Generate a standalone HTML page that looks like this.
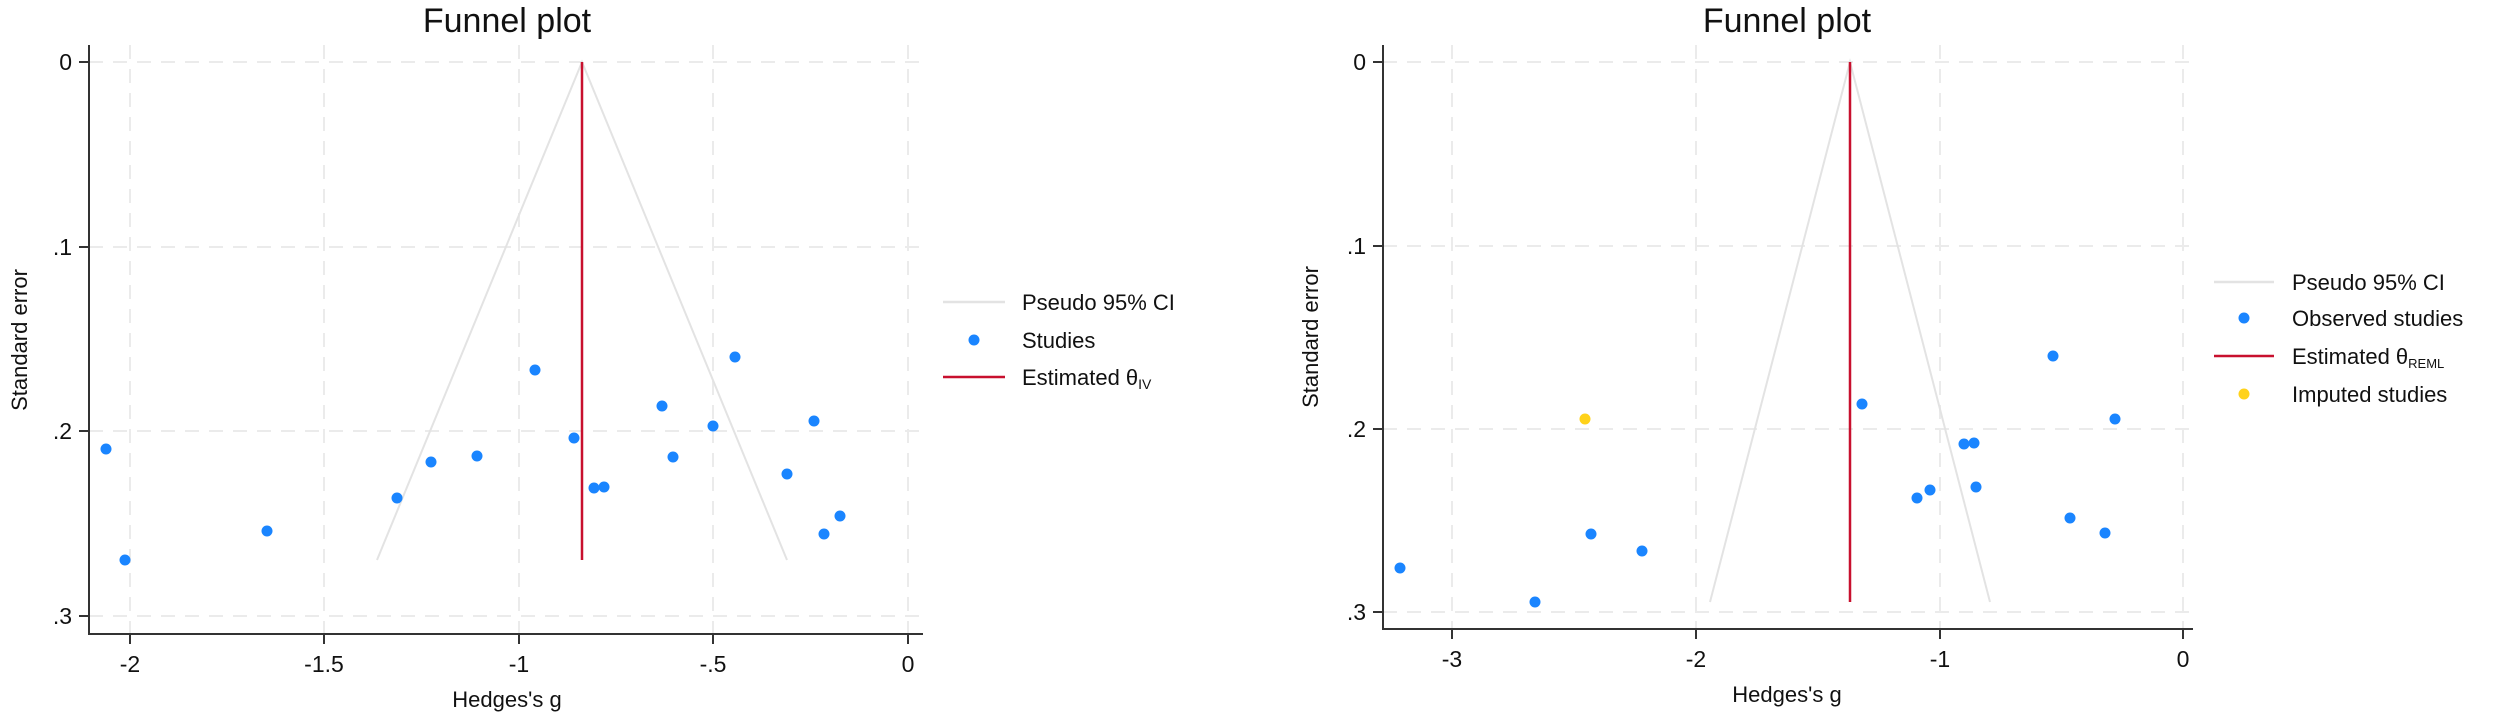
<!DOCTYPE html>
<html><head><meta charset="utf-8"><style>
body{margin:0;background:#fff}
svg{display:block;font-family:"Liberation Sans",Arial,sans-serif}
</style></head><body>
<svg width="2500" height="720" viewBox="0 0 2500 720" xmlns="http://www.w3.org/2000/svg">
<rect width="2500" height="720" fill="#fff"/>
<!-- LEFT PLOT -->
<g stroke="#ebebeb" stroke-width="2" stroke-dasharray="14,10">
<line x1="130" y1="45" x2="130" y2="634"/><line x1="324" y1="45" x2="324" y2="634"/>
<line x1="519" y1="45" x2="519" y2="634"/><line x1="713" y1="45" x2="713" y2="634"/>
<line x1="908" y1="45" x2="908" y2="634"/>
<line x1="89" y1="62" x2="923" y2="62"/><line x1="89" y1="247" x2="923" y2="247"/>
<line x1="89" y1="431" x2="923" y2="431"/><line x1="89" y1="616" x2="923" y2="616"/>
</g>
<polyline points="377,560 582,62 787,560" fill="none" stroke="#e3e3e3" stroke-width="2"/>
<line x1="582" y1="62" x2="582" y2="560" stroke="#c8102e" stroke-width="2.5"/>
<g fill="#1a85ff">
<circle cx="106" cy="449" r="5.5"/><circle cx="125" cy="560" r="5.5"/><circle cx="267" cy="531" r="5.5"/>
<circle cx="397" cy="498" r="5.5"/><circle cx="431" cy="462" r="5.5"/><circle cx="477" cy="456" r="5.5"/>
<circle cx="535" cy="370" r="5.5"/><circle cx="574" cy="438" r="5.5"/><circle cx="594" cy="488" r="5.5"/>
<circle cx="604" cy="487" r="5.5"/><circle cx="662" cy="406" r="5.5"/><circle cx="673" cy="457" r="5.5"/>
<circle cx="713" cy="426" r="5.5"/><circle cx="735" cy="357" r="5.5"/><circle cx="787" cy="474" r="5.5"/>
<circle cx="814" cy="421" r="5.5"/><circle cx="824" cy="534" r="5.5"/><circle cx="840" cy="516" r="5.5"/>
</g>
<g stroke="#333" stroke-width="2">
<line x1="89" y1="45" x2="89" y2="635"/><line x1="88" y1="634" x2="923" y2="634"/>
<line x1="79" y1="62" x2="89" y2="62"/><line x1="79" y1="247" x2="89" y2="247"/>
<line x1="79" y1="431" x2="89" y2="431"/><line x1="79" y1="616" x2="89" y2="616"/>
<line x1="130" y1="634" x2="130" y2="644"/><line x1="324" y1="634" x2="324" y2="644"/>
<line x1="519" y1="634" x2="519" y2="644"/><line x1="713" y1="634" x2="713" y2="644"/>
<line x1="908" y1="634" x2="908" y2="644"/>
</g>
<g font-size="23" fill="#111" text-anchor="end">
<text x="72" y="70">0</text><text x="72" y="255">.1</text><text x="72" y="439">.2</text><text x="72" y="624">.3</text>
</g>
<g font-size="23" fill="#111" text-anchor="middle">
<text x="130" y="672">-2</text><text x="324" y="672">-1.5</text><text x="519" y="672">-1</text>
<text x="713" y="672">-.5</text><text x="908" y="672">0</text>
<text x="507" y="707" font-size="22">Hedges's g</text>
<text x="507" y="32" font-size="34">Funnel plot</text>
<text transform="translate(27,340) rotate(-90)" font-size="22">Standard error</text>
</g>
<line x1="943" y1="302" x2="1005" y2="302" stroke="#e3e3e3" stroke-width="2.5"/>
<circle cx="974" cy="340" r="5.5" fill="#1a85ff"/>
<line x1="943" y1="377" x2="1005" y2="377" stroke="#c8102e" stroke-width="2.5"/>
<g font-size="22" fill="#111">
<text x="1022" y="310">Pseudo 95% CI</text><text x="1022" y="348">Studies</text>
<text x="1022" y="385">Estimated θ<tspan font-size="14" dy="4">IV</tspan></text>
</g>
<!-- RIGHT PLOT -->
<g stroke="#ebebeb" stroke-width="2" stroke-dasharray="14,10">
<line x1="1452" y1="45" x2="1452" y2="629"/><line x1="1696" y1="45" x2="1696" y2="629"/>
<line x1="1940" y1="45" x2="1940" y2="629"/><line x1="2183" y1="45" x2="2183" y2="629"/>
<line x1="1383" y1="62" x2="2193" y2="62"/><line x1="1383" y1="246" x2="2193" y2="246"/>
<line x1="1383" y1="429" x2="2193" y2="429"/><line x1="1383" y1="612" x2="2193" y2="612"/>
</g>
<polyline points="1710,602 1850,62 1990,602" fill="none" stroke="#e3e3e3" stroke-width="2"/>
<line x1="1850" y1="62" x2="1850" y2="602" stroke="#c8102e" stroke-width="2.5"/>
<g fill="#1a85ff">
<circle cx="1400" cy="568" r="5.5"/><circle cx="1535" cy="602" r="5.5"/><circle cx="1591" cy="534" r="5.5"/>
<circle cx="1642" cy="551" r="5.5"/><circle cx="1862" cy="404" r="5.5"/><circle cx="1917" cy="498" r="5.5"/>
<circle cx="1930" cy="490" r="5.5"/><circle cx="1964" cy="444" r="5.5"/><circle cx="1974" cy="443" r="5.5"/>
<circle cx="1976" cy="487" r="5.5"/><circle cx="2053" cy="356" r="5.5"/><circle cx="2070" cy="518" r="5.5"/>
<circle cx="2105" cy="533" r="5.5"/><circle cx="2115" cy="419" r="5.5"/>
</g>
<circle cx="1585" cy="419" r="5.5" fill="#ffd21a"/>
<g stroke="#333" stroke-width="2">
<line x1="1383" y1="45" x2="1383" y2="630"/><line x1="1382" y1="629" x2="2193" y2="629"/>
<line x1="1373" y1="62" x2="1383" y2="62"/><line x1="1373" y1="246" x2="1383" y2="246"/>
<line x1="1373" y1="429" x2="1383" y2="429"/><line x1="1373" y1="612" x2="1383" y2="612"/>
<line x1="1452" y1="629" x2="1452" y2="639"/><line x1="1696" y1="629" x2="1696" y2="639"/>
<line x1="1940" y1="629" x2="1940" y2="639"/><line x1="2183" y1="629" x2="2183" y2="639"/>
</g>
<g font-size="23" fill="#111" text-anchor="end">
<text x="1366" y="70">0</text><text x="1366" y="254">.1</text><text x="1366" y="437">.2</text><text x="1366" y="620">.3</text>
</g>
<g font-size="23" fill="#111" text-anchor="middle">
<text x="1452" y="667">-3</text><text x="1696" y="667">-2</text><text x="1940" y="667">-1</text><text x="2183" y="667">0</text>
<text x="1787" y="702" font-size="22">Hedges's g</text>
<text x="1787" y="32" font-size="34">Funnel plot</text>
<text transform="translate(1318,337) rotate(-90)" font-size="22">Standard error</text>
</g>
<line x1="2214" y1="282" x2="2274" y2="282" stroke="#e3e3e3" stroke-width="2.5"/>
<circle cx="2244" cy="318" r="5.5" fill="#1a85ff"/>
<line x1="2214" y1="356" x2="2274" y2="356" stroke="#c8102e" stroke-width="2.5"/>
<circle cx="2244" cy="394" r="5.5" fill="#ffd21a"/>
<g font-size="22" fill="#111">
<text x="2292" y="290">Pseudo 95% CI</text><text x="2292" y="326">Observed studies</text>
<text x="2292" y="364">Estimated θ<tspan font-size="13" dy="4">REML</tspan></text>
<text x="2292" y="402">Imputed studies</text>
</g>
</svg>
</body></html>
